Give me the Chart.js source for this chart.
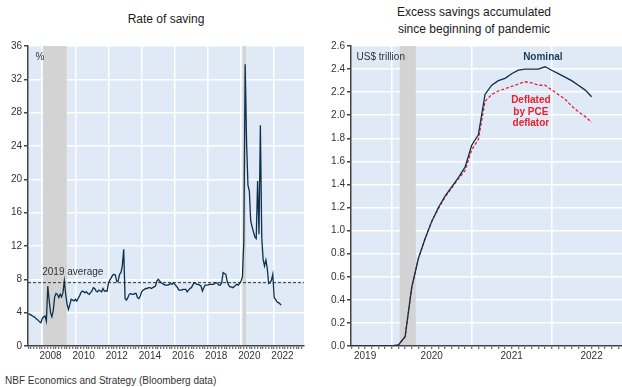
<!DOCTYPE html>
<html>
<head>
<meta charset="utf-8">
<script src="https://cdn.jsdelivr.net/npm/chart.js@4.4.1/dist/chart.umd.min.js"></script>
<style>
  body { margin: 0; background: #fff; font-family: "Liberation Sans", Arial, sans-serif; }
  #page { position: relative; width: 622px; height: 387px; overflow: hidden; }
  canvas { position: absolute; top: 0; }
  .title { position: absolute; font-size: 12px; line-height: 17px; color: #1a1a1a; text-align: center; }
  #source { position: absolute; left: 5px; top: 375px; font-size: 10px; line-height: 12px; color: #333; }
</style>
</head>
<body>
<div id="page">
  <div class="title" style="left:66px; top:11px; width:200px;">Rate of saving</div>
  <div class="title" style="left:374px; top:4px; width:200px;">Excess savings accumulated<br>since beginning of pandemic</div>
  <canvas id="saving" width="311" height="366" style="left:0"></canvas>
  <canvas id="excess" width="311" height="366" style="left:311px"></canvas>
  <div id="source">NBF Economics and Strategy (Bloomberg data)</div>
</div>
<script>
// personal saving rate, %, monthly from March 2007
var savingStart = [2007, 3];
var savingRate = [
  3.9, 3.8, 3.7, 3.6, 3.5, 3.4, 3.2, 3.1, 2.9, 2.8,                // 2007
  3.3, 3.5, 3.6, 3.0, 7.2, 5.5, 4.0, 3.5, 4.3, 5.9, 6.3, 6.2,      // 2008
  5.8, 6.2, 5.9, 6.4, 7.8, 6.2, 5.0, 4.4, 5.0, 5.6, 5.5, 5.4,      // 2009
  5.6, 5.4, 5.7, 6.0, 6.4, 6.6, 6.5, 6.4, 6.5, 6.3, 6.2, 6.4,      // 2010
  6.6, 7.0, 6.9, 6.6, 6.5, 6.7, 6.6, 6.5, 6.9, 6.6, 6.6, 6.6,      // 2011
  7.6, 7.9, 8.2, 8.5, 8.6, 8.5, 7.7, 7.8, 8.6, 8.8, 9.6, 11.6,     // 2012
  5.7, 5.5, 5.8, 6.2, 6.3, 6.2, 6.2, 6.3, 6.3, 5.8, 5.7, 6.0,      // 2013
  6.5, 6.7, 6.8, 6.9, 6.9, 7.0, 7.0, 6.9, 7.0, 7.1, 7.2, 7.8,      // 2014
  8.0, 7.8, 7.6, 7.5, 7.4, 7.3, 7.3, 7.3, 7.4, 7.5, 7.4, 7.6,      // 2015
  7.4, 7.2, 7.0, 6.7, 6.7, 6.7, 6.8, 6.8, 6.8, 6.5, 6.7, 6.9,      // 2016
  7.0, 7.3, 7.6, 7.5, 7.4, 7.4, 7.3, 7.2, 6.6, 7.0, 7.3, 7.3,      // 2017
  7.3, 7.4, 7.4, 7.4, 7.4, 7.5, 7.6, 7.5, 7.3, 7.3, 7.6, 8.8,      // 2018
  8.7, 8.6, 7.7, 7.3, 7.1, 7.1, 7.0, 7.1, 7.3, 7.4, 7.3, 7.5,      // 2019
  7.8, 8.3, 12.5, 33.8, 24.5, 19.3, 18.6, 15.0, 14.3, 13.7, 13.1, 12.9, // 2020
  19.8, 13.4, 26.5, 13.0, 10.4, 9.6, 10.3, 9.3, 7.5, 7.6, 7.9, 8.6,     // 2021
  5.8, 5.6, 5.3, 5.2, 5.1, 4.9                                          // 2022
];
var average2019 = 7.6;
var savingYears = [2008, 2010, 2012, 2014, 2016, 2018, 2020, 2022];

// excess savings since the pandemic began, US$ trillion, monthly from July 2019
var excessStart = [2019, 7];
var nominalExcess = [
  0, 0, 0, 0, 0, 0,
  0, 0.01, 0.08, 0.51, 0.76, 0.93, 1.08, 1.20, 1.30, 1.38, 1.46, 1.55,
  1.74, 1.83, 2.18, 2.26, 2.30, 2.32, 2.36, 2.39, 2.40, 2.40, 2.40, 2.42,
  2.39, 2.36, 2.33, 2.30, 2.26, 2.22, 2.16
];
var deflatedExcess = [
  0, 0, 0, 0, 0, 0,
  0, 0.01, 0.08, 0.51, 0.76, 0.93, 1.08, 1.19, 1.29, 1.37, 1.45, 1.52,
  1.70, 1.79, 2.12, 2.18, 2.21, 2.23, 2.25, 2.27, 2.29, 2.28, 2.26, 2.26,
  2.22, 2.18, 2.14, 2.08, 2.03, 1.99, 1.94
];
var excessYears = [2019, 2020, 2021, 2022];

// US recessions, decimal years
var recessions = [[2008.05, 2009.48], [2020.1, 2020.3]];

var NAVY = "#0e2f4d";
var RED = "#e8202e";
var FONT = '"Liberation Sans", Arial, sans-serif';

Chart.defaults.font.family = FONT;
Chart.defaults.font.size = 10;
Chart.defaults.color = "#333";

function monthly(start, values) {
  return values.map(function (v, i) {
    return { x: start[0] + (start[1] - 1 + i) / 12, y: v };
  });
}

// ticks every 1/perYear, white gridline at each listed year, label centred in the year
function yearTicks(perYear, years) {
  return function (scale) {
    var ticks = [];
    for (var k = Math.ceil(scale.min * perYear); k <= Math.floor(scale.max * perYear); k++) {
      ticks.push({ value: k / perYear, grid: years.indexOf(k / perYear) >= 0 });
    }
    var first = Math.round((scale.min + 1 / 6) * 12) / 12;
    years.forEach(function (yr) {
      var pos = Math.max(yr + 0.5, first);
      if (pos < scale.max) ticks.push({ value: pos, text: String(yr) });
    });
    ticks.sort(function (a, b) { return a.value - b.value; });
    scale.ticks = ticks;
  };
}

// plot background, recession bands and text notes
function panel(notes) {
  return {
    id: "panel",
    beforeDraw: function (chart) {
      var a = chart.chartArea, ctx = chart.ctx;
      ctx.save();
      ctx.fillStyle = "#dfeaf6";
      ctx.fillRect(a.left, a.top, a.right - a.left, a.bottom - a.top);
      ctx.restore();
    },
    beforeDatasetsDraw: function (chart) {
      var a = chart.chartArea, ctx = chart.ctx, x = chart.scales.x;
      ctx.save();
      ctx.fillStyle = "#d3d3d3";
      recessions.forEach(function (r) {
        var x0 = Math.max(x.getPixelForValue(r[0]), a.left);
        var x1 = Math.min(x.getPixelForValue(r[1]), a.right);
        if (x1 > x0) ctx.fillRect(x0, a.top, x1 - x0, a.bottom - a.top - 1);
      });
      ctx.restore();
    },
    afterDatasetsDraw: function (chart) {
      var ctx = chart.ctx, x = chart.scales.x, y = chart.scales.y;
      ctx.save();
      ctx.textBaseline = "middle";
      notes.forEach(function (n) {
        ctx.font = (n.bold ? "bold " : "") + "10px " + FONT;
        ctx.fillStyle = n.color || "#333";
        ctx.textAlign = n.align || "left";
        ctx.fillText(n.text, x.getPixelForValue(n.x), y.getPixelForValue(n.y));
      });
      ctx.restore();
    }
  };
}

function xAxis(min, max, perYear, years) {
  return {
    type: "linear",
    min: min,
    max: max,
    afterBuildTicks: yearTicks(perYear, years),
    afterFit: function (scale) { scale.height = 20; },
    ticks: {
      autoSkip: false,
      maxRotation: 0,
      padding: 1,
      callback: function (v, i, ticks) { return ticks[i].text || ""; }
    },
    grid: {
      color: function (c) { return c.tick && c.tick.grid ? "#ffffff" : "rgba(0,0,0,0)"; },
      lineWidth: 1.5,
      tickColor: function (c) { return c.tick && c.tick.text ? "rgba(0,0,0,0)" : "#444"; },
      tickLength: 3,
      tickWidth: 1
    },
    border: { color: "#444", width: 1.5 }
  };
}

function yAxis(max, step, width, fmt) {
  return {
    min: 0,
    max: max,
    afterFit: function (scale) { scale.width = width; },
    ticks: { stepSize: step, padding: 2, callback: fmt },
    grid: { color: "#ffffff", lineWidth: 1.5, tickColor: "#444", tickLength: 4 },
    border: { color: "#444", width: 1.5 }
  };
}

var savingMin = 2007.14, savingMax = 2023.8;

new Chart(document.getElementById("saving"), {
  type: "line",
  data: {
    datasets: [{
      data: monthly(savingStart, savingRate),
      borderColor: NAVY,
      borderWidth: 1.3,
      pointRadius: 0,
      tension: 0
    }, {
      data: [{ x: savingMin, y: average2019 }, { x: savingMax, y: average2019 }],
      borderColor: "#333",
      borderWidth: 1,
      borderDash: [3, 2],
      pointRadius: 0
    }]
  },
  options: {
    responsive: false,
    animation: false,
    layout: { padding: { top: 46, right: 7, left: 0, bottom: 0 } },
    plugins: { legend: { display: false }, tooltip: { enabled: false } },
    scales: {
      x: xAxis(savingMin, savingMax, 6, savingYears),
      y: yAxis(36, 4, 28, function (v) { return v; })
    }
  },
  plugins: [panel([
    { text: "%", x: 2007.6, y: 34.7 },
    { text: "2019 average", x: 2008.0, y: 8.8 }
  ])]
});

var excessMin = 2019.49, excessMax = 2022.88;

new Chart(document.getElementById("excess"), {
  type: "line",
  data: {
    datasets: [{
      label: "Nominal",
      data: monthly(excessStart, nominalExcess),
      borderColor: NAVY,
      borderWidth: 1.3,
      pointRadius: 0,
      tension: 0
    }, {
      label: "Deflated by PCE deflator",
      data: monthly(excessStart, deflatedExcess),
      borderColor: RED,
      borderWidth: 1.3,
      borderDash: [3, 2],
      pointRadius: 0,
      tension: 0
    }]
  },
  options: {
    responsive: false,
    animation: false,
    layout: { padding: { top: 46, right: 0, left: 0, bottom: 0 } },
    plugins: { legend: { display: false }, tooltip: { enabled: false } },
    scales: {
      x: xAxis(excessMin, excessMax, 12, excessYears),
      y: yAxis(2.6, 0.2, 40, function (v) { return v.toFixed(1); })
    }
  },
  plugins: [panel([
    { text: "US$ trillion", x: 2019.56, y: 2.5 },
    { text: "Nominal", x: 2021.89, y: 2.5, bold: true, color: "#1b3a57", align: "center" },
    { text: "Deflated", x: 2021.74, y: 2.13, bold: true, color: RED, align: "center" },
    { text: "by PCE", x: 2021.74, y: 2.03, bold: true, color: RED, align: "center" },
    { text: "deflator", x: 2021.74, y: 1.93, bold: true, color: RED, align: "center" }
  ])]
});
</script>
</body>
</html>
